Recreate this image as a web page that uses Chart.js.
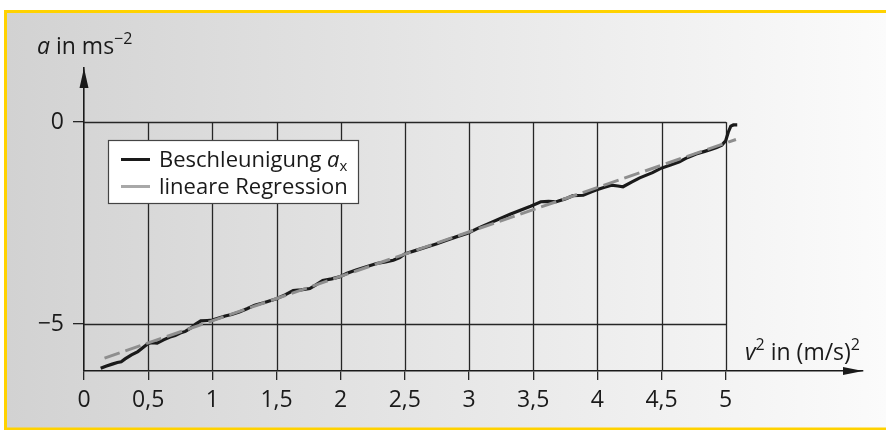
<!DOCTYPE html>
<html>
<head>
<meta charset="utf-8">
<script src="https://cdn.jsdelivr.net/npm/chart.js@4.4.1/dist/chart.umd.min.js"></script>
<style>
  html, body { margin: 0; padding: 0; background: #ffffff; }
  #wrap { width: 886px; height: 430px; }
  canvas { display: block; }
</style>
</head>
<body>
<div id="wrap"><canvas id="c" width="886" height="430"></canvas></div>
<script>
// ---- data ----
const v2 = [0.13,0.17,0.22,0.26,0.29,0.32,0.37,0.42,0.46,0.50,0.53,0.57,0.62,0.67,0.71,0.75,0.79,0.83,0.87,0.91,0.96,1.00,1.05,1.10,1.15,1.21,1.27,1.33,1.40,1.50,1.57,1.63,1.69,1.76,1.81,1.86,1.93,1.99,2.05,2.12,2.20,2.28,2.35,2.41,2.46,2.50,2.58,2.67,2.75,2.82,2.90,2.99,3.08,3.16,3.24,3.32,3.40,3.48,3.56,3.62,3.68,3.75,3.81,3.89,3.95,3.99,4.05,4.11,4.16,4.20,4.27,4.33,4.43,4.49,4.57,4.64,4.70,4.77,4.83,4.88,4.93,4.97,5.00,5.02,5.04,5.06,5.09];
const accel = [-6.09,-6.04,-5.99,-5.95,-5.93,-5.86,-5.76,-5.68,-5.58,-5.48,-5.46,-5.47,-5.39,-5.32,-5.28,-5.22,-5.18,-5.10,-5.00,-4.92,-4.91,-4.90,-4.85,-4.80,-4.76,-4.70,-4.62,-4.53,-4.47,-4.37,-4.27,-4.17,-4.15,-4.12,-4.02,-3.92,-3.88,-3.83,-3.74,-3.66,-3.58,-3.50,-3.46,-3.42,-3.35,-3.26,-3.18,-3.09,-3.01,-2.93,-2.84,-2.75,-2.61,-2.50,-2.39,-2.28,-2.18,-2.08,-1.97,-1.96,-1.97,-1.90,-1.82,-1.81,-1.73,-1.68,-1.62,-1.56,-1.58,-1.60,-1.48,-1.38,-1.25,-1.15,-1.06,-0.98,-0.88,-0.79,-0.73,-0.68,-0.63,-0.57,-0.46,-0.25,-0.10,-0.07,-0.07];
const regV2 = [0.16, 5.08];
const regA = [-5.84, -0.43];
const xTicks = [0,0.5,1,1.5,2,2.5,3,3.5,4,4.5,5];
const xTickLabels = ['0','0,5','1','1,5','2','2,5','3','3,5','4','4,5','5'];
const yTicks = [-5, 0];
const yTickLabels = ['\u22125', '0'];
const seriesNames = ['Beschleunigung', 'lineare Regression'];

const FONT = "'Open Sans', 'Noto Sans', sans-serif";
const INK = '#1a1a1a';

function rich(ctx, x, y, parts, size) {
  let cx = x;
  ctx.textBaseline = 'alphabetic';
  ctx.textAlign = 'left';
  for (const p of parts) {
    let s = size, dy = 0;
    if (p.sup) { s = Math.round(size * 0.7); dy = -size * 0.42; }
    if (p.sub) { s = Math.round(size * 0.7); dy = size * 0.2; }
    ctx.font = (p.italic ? 'italic ' : '') + s + 'px ' + FONT;
    ctx.fillText(p.t, cx, y + dy);
    cx += ctx.measureText(p.t).width;
  }
  return cx;
}

const decor = {
  id: 'decor',
  beforeDraw(chart) {
    const ctx = chart.ctx;
    const W = chart.width, H = chart.height;
    ctx.save();
    ctx.fillStyle = '#ffffff';
    ctx.fillRect(0, 0, W, H);
    const g = ctx.createLinearGradient(7, 0, W, 0);
    g.addColorStop(0, '#d2d2d2');
    g.addColorStop(1, '#fbfbfb');
    ctx.fillStyle = g;
    ctx.fillRect(7, 13, W - 7, 415);
    ctx.fillStyle = '#ffd200';
    ctx.fillRect(4, 10, W - 4, 3);
    ctx.fillRect(4, 10, 3, 420);
    ctx.fillRect(4, 427.5, W - 4, 3);
    ctx.restore();
  },
  beforeDatasetsDraw(chart) {
    const ctx = chart.ctx;
    const xs = chart.scales.x, ys = chart.scales.y;
    ctx.save();
    ctx.strokeStyle = '#262626';
    ctx.lineWidth = 1.3;
    const yTop = ys.getPixelForValue(0);
    const yBot = chart.chartArea.bottom;
    for (const v of xTicks) {
      if (v === 0) continue;
      const px = Math.round(xs.getPixelForValue(v)) + 0.5;
      ctx.beginPath(); ctx.moveTo(px, yTop); ctx.lineTo(px, yBot); ctx.stroke();
    }
    const xL = xs.getPixelForValue(0), xR = xs.getPixelForValue(5);
    for (const v of yTicks) {
      const py = Math.round(ys.getPixelForValue(v)) + 0.5;
      ctx.beginPath(); ctx.moveTo(xL, py); ctx.lineTo(xR + 0.5, py); ctx.stroke();
    }
    ctx.restore();
  },
  afterDraw(chart) {
    const ctx = chart.ctx;
    const a = chart.chartArea;
    ctx.save();
    ctx.fillStyle = INK;
    // arrows
    const x0 = a.left;
    ctx.beginPath();
    ctx.moveTo(x0, a.top); ctx.lineTo(x0 - 4.5, a.top + 20); ctx.lineTo(x0 + 4.5, a.top + 20); ctx.closePath(); ctx.fill();
    const yb = a.bottom;
    ctx.beginPath();
    ctx.moveTo(a.right, yb); ctx.lineTo(a.right - 20, yb - 4); ctx.lineTo(a.right - 20, yb + 4); ctx.closePath(); ctx.fill();
    // axis titles
    ctx.fillStyle = INK;
    rich(ctx, 37, 54, [{t: 'a', italic: true}, {t: ' in ms'}, {t: '\u22122', sup: true}], 23);
    rich(ctx, 745, 360, [{t: 'v', italic: true}, {t: '2', sup: true}, {t: ' in (m/s)'}, {t: '2', sup: true}], 23);
    // legend
    const lx = 108, ly = 140, lw = 250, lh = 63;
    ctx.fillStyle = '#ffffff';
    ctx.fillRect(lx, ly, lw, lh);
    ctx.strokeStyle = '#444444';
    ctx.lineWidth = 1.2;
    ctx.strokeRect(lx + 0.5, ly + 0.5, lw, lh);
    const ds = chart.data.datasets;
    ctx.lineWidth = 3;
    ctx.strokeStyle = ds[0].borderColor;
    ctx.beginPath(); ctx.moveTo(121, 159.5); ctx.lineTo(150, 159.5); ctx.stroke();
    ctx.strokeStyle = '#a8a8a8';
    ctx.beginPath(); ctx.moveTo(121, 186.5); ctx.lineTo(150, 186.5); ctx.stroke();
    ctx.fillStyle = INK;
    rich(ctx, 159, 167, [{t: ds[0].label + ' '}, {t: 'a', italic: true}, {t: 'x', sub: true}], 22);
    rich(ctx, 159, 194, [{t: ds[1].label}], 22);
    ctx.restore();
  }
};

new Chart(document.getElementById('c'), {
  type: 'scatter',
  data: {
    datasets: [
      {
        label: seriesNames[0],
        data: v2.map((x, i) => ({x: x, y: accel[i]})),
        showLine: true,
        borderColor: '#1a1a1a',
        borderWidth: 3.2,
        pointRadius: 0,
        tension: 0,
        order: 2
      },
      {
        label: seriesNames[1],
        data: regV2.map((x, i) => ({x: x, y: regA[i]})),
        showLine: true,
        borderColor: '#8e8e8e',
        borderWidth: 3,
        borderDash: [16, 6],
        pointRadius: 0,
        order: 1
      }
    ]
  },
  options: {
    responsive: false,
    animation: false,
    devicePixelRatio: 1,
    layout: { padding: { left: 0, right: 23, top: 68, bottom: 0 } },
    plugins: { legend: { display: false }, tooltip: { enabled: false } },
    scales: {
      x: {
        type: 'linear', min: 0, max: 6.07,
        afterBuildTicks: s => { s.ticks = xTicks.map(v => ({value: v})); },
        afterFit: s => { s.height = 59; },
        ticks: {
          callback: (v, i) => xTickLabels[i],
          font: { family: FONT, size: 23 },
          color: INK,
          padding: 7,
          maxRotation: 0,
          autoSkip: false
        },
        grid: { drawOnChartArea: false, drawTicks: true, tickLength: 9, color: '#262626', lineWidth: 1.3 },
        border: { display: true, color: INK, width: 1.6 }
      },
      y: {
        type: 'linear', min: -6.16, max: 1.34,
        afterBuildTicks: s => { s.ticks = yTicks.map(v => ({value: v})); },
        afterFit: s => { s.width = 84; },
        ticks: {
          callback: (v, i) => yTickLabels[i],
          font: { family: FONT, size: 23 },
          color: INK,
          padding: 9,
          autoSkip: false
        },
        grid: { drawOnChartArea: false, drawTicks: true, tickLength: 11, color: '#262626', lineWidth: 1.3 },
        border: { display: true, color: INK, width: 1.6 }
      }
    }
  },
  plugins: [decor]
});
</script>
</body>
</html>
